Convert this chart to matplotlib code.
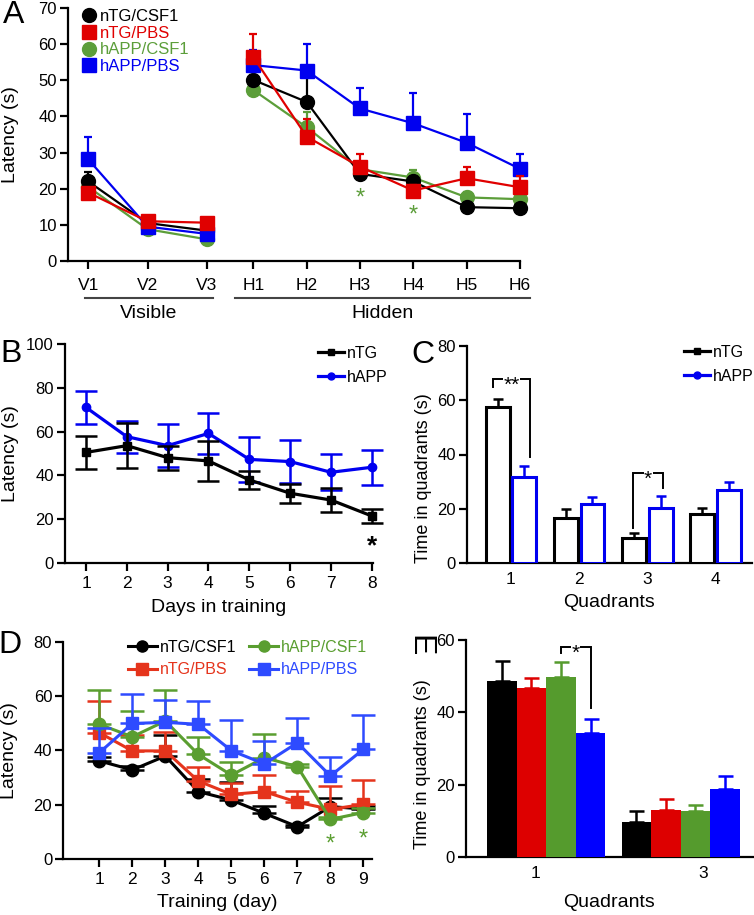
import matplotlib
matplotlib.use('Agg')
import matplotlib.pyplot as plt
import matplotlib.transforms as mtransforms
from matplotlib.lines import Line2D
import numpy as np

plt.rcParams['font.family'] = ['Liberation Sans', 'DejaVu Sans']

# ---------------- data ----------------
# Panel A
A_labels = ['V1', 'V2', 'V3', 'H1', 'H2', 'H3', 'H4', 'H5', 'H6']
A_ntg_csf1 = [22.0, 10.5, 8.4, 50.1, 44.0, 24.1, 22.0, 14.9, 14.6]
A_ntg_csf1_err = [2.7, 0.5, 0.8, 1.5, 8.5, 1.2, 1.0, 0.8, 0.8]
A_ntg_pbs = [18.9, 11.0, 10.6, 56.4, 34.4, 26.1, 19.5, 22.9, 20.4]
A_ntg_pbs_err = [1.0, 0.8, 1.2, 6.4, 4.9, 3.5, 1.5, 3.0, 3.0]
A_happ_csf1 = [20.5, 8.8, 6.0, 47.3, 37.0, 25.4, 23.1, 17.6, 17.1]
A_happ_csf1_err = [1.0, 0.5, 0.5, 1.0, 4.1, 1.0, 2.1, 1.5, 1.0]
A_happ_pbs = [28.1, 9.5, 7.5, 54.2, 52.7, 42.2, 38.1, 32.7, 25.5]
A_happ_pbs_err = [6.3, 0.5, 0.5, 4.2, 7.3, 5.8, 8.3, 7.9, 4.1]
A_sig = ['H3', 'H4']
A_sig_y = [19.5, 14.7]

# Panel B
B_days = [1, 2, 3, 4, 5, 6, 7, 8]
B_ntg = [50.5, 53.6, 48.1, 46.6, 37.9, 31.8, 28.7, 21.4]
B_ntg_err = [7.5, 10.2, 5.5, 9.0, 4.0, 4.3, 5.5, 3.2]
B_happ = [71.1, 57.7, 53.6, 59.2, 47.3, 46.3, 41.4, 43.7]
B_happ_err = [7.7, 7.4, 10.0, 9.5, 10.2, 10.0, 8.3, 8.1]

# Panel C
C_quadrants = ['1', '2', '3', '4']
C_ntg = [57.6, 16.5, 9.2, 18.0]
C_ntg_err = [2.9, 3.4, 1.8, 2.2]
C_happ = [31.9, 21.8, 20.5, 27.0]
C_happ_err = [3.9, 2.5, 4.3, 3.0]

# Panel D
D_days = [1, 2, 3, 4, 5, 6, 7, 8, 9]
D_ntg_csf1 = [36.1, 32.8, 37.9, 24.8, 21.7, 16.8, 11.9, 19.3, 18.4]
D_ntg_csf1_err = [1.5, 1.5, 7.7, 4.5, 6.8, 2.8, 0.8, 3.0, 1.0]
D_ntg_pbs = [46.5, 39.8, 39.8, 28.7, 23.8, 24.8, 20.9, 18.3, 20.1]
D_ntg_pbs_err = [11.7, 6.0, 7.0, 5.0, 4.0, 6.1, 4.1, 8.7, 9.0]
D_happ_csf1 = [49.6, 45.0, 50.8, 38.5, 30.9, 37.3, 34.0, 14.6, 17.1]
D_happ_csf1_err = [12.6, 9.6, 11.4, 6.5, 4.9, 8.6, 1.0, 1.0, 1.5]
D_happ_pbs = [39.1, 49.9, 50.3, 49.6, 39.9, 35.0, 42.8, 30.6, 40.4]
D_happ_pbs_err = [9.0, 10.8, 8.2, 8.6, 11.3, 8.6, 9.2, 7.1, 12.6]
D_sig = [8, 9]
D_sig_y = [8.1, 9.9]

# Panel E
E_quadrants = ['1', '3']
E_ntg_csf1 = [48.7, 9.7]
E_ntg_csf1_err = [5.5, 3.1]
E_ntg_pbs = [46.8, 13.1]
E_ntg_pbs_err = [2.6, 3.0]
E_happ_csf1 = [49.7, 12.9]
E_happ_csf1_err = [4.1, 1.5]
E_happ_pbs = [34.4, 18.9]
E_happ_pbs_err = [3.8, 3.6]

# ---------------- style ----------------
RED_A, GREEN_A, BLUE_A = '#e00000', '#5c9e3a', '#0000f0'
RED_D, GREEN_D, BLUE_D = '#e5341c', '#5a9e30', '#2e4bff'
RED_E, GREEN_E, BLUE_E = '#dd0000', '#559b2d', '#0000ff'

W, H = 754, 915
fig = plt.figure(figsize=(W / 100, H / 100), dpi=100)


def px_axes(l, t, r, b):
    return fig.add_axes([l / W, 1 - b / H, (r - l) / W, (b - t) / H])


def style(ax, xticks=True, xpad=4):
    for s in ['top', 'right']:
        ax.spines[s].set_visible(False)
    for s in ['left', 'bottom']:
        ax.spines[s].set_linewidth(1.6)
    ax.tick_params(axis='y', direction='out', length=6, width=1.6, labelsize=12, pad=2)
    ax.tick_params(axis='x', direction='out', length=5.5 if xticks else 0, width=1.6,
                   labelsize=12.5, pad=xpad if xticks else 6)


def noclip(eb):
    line, caps, bars = eb.lines
    if line is not None:
        line.set_clip_on(False)
    for c in caps:
        c.set_clip_on(False)
    for b in bars:
        b.set_clip_on(False)


def up(err):
    return [np.zeros(len(err)), err]


def star(ax, x, y, s='*', color='black', fs=17, weight='normal'):
    # place the asterisk glyph centred on (x, y)
    ax.annotate(s, xy=(x, y), xytext=(0, -0.575 * fs), textcoords='offset points',
                ha='center', va='baseline', fontsize=fs, color=color, fontweight=weight,
                zorder=7, annotation_clip=False)


def set_labels(ax, xlabel, xy_x, ylabel, xy_y, size=14, ysize=None):
    if xlabel:
        ax.set_xlabel(xlabel, fontsize=size)
        ax.xaxis.set_label_coords(*xy_x)
        ax.xaxis.label.set_va('center')
    ax.set_ylabel(ylabel, fontsize=ysize or size)
    ax.yaxis.set_label_coords(*xy_y)
    ax.yaxis.label.set_va('center')


def bracket(ax, x0, x1, ytop, yb0, yb1, label, fs=15):
    ax.plot([x0, x0, x1, x1], [yb0, ytop, ytop, yb1], color='black', lw=1.4,
            clip_on=False, zorder=6, solid_joinstyle='miter')
    t = ax.annotate(label, xy=((x0 + x1) / 2, ytop), xytext=(0, -0.575 * fs),
                    textcoords='offset points', ha='center', va='baseline', fontsize=fs,
                    zorder=7, annotation_clip=False)
    t.set_bbox(dict(facecolor='white', edgecolor='none', pad=0.3))


# ---------------- Panel A ----------------
axA = px_axes(68, 8, 520, 261)
xA = np.array([0, 1, 2, 2.787, 3.688, 4.586, 5.487, 6.39, 7.29])
seriesA = [
    (A_happ_csf1, A_happ_csf1_err, GREEN_A, 'o', 2),
    (A_ntg_csf1, A_ntg_csf1_err, 'black', 'o', 3),
    (A_happ_pbs, A_happ_pbs_err, BLUE_A, 's', 4),
    (A_ntg_pbs, A_ntg_pbs_err, RED_A, 's', 5),
]
groupsA = [[i for i, l in enumerate(A_labels) if l.startswith(g)] for g in ('V', 'H')]
for vals, err, col, mk, z in seriesA:
    vals = np.asarray(vals)
    err = np.asarray(err)
    for idx in groupsA:
        eb = axA.errorbar(xA[idx], vals[idx], yerr=up(err[idx]), color=col, marker=mk,
                          ms=10 if mk == 'o' else 9.5, lw=1.6, elinewidth=1.6, capsize=3,
                          capthick=1.6, zorder=z)
        noclip(eb)
for lab, yv in zip(A_sig, A_sig_y):
    star(axA, xA[A_labels.index(lab)], yv, color=GREEN_A, fs=17)
axA.set_xlim(-0.343, 7.29)
axA.set_ylim(0, 70)
axA.set_yticks(range(0, 71, 10))
axA.set_xticks(xA)
axA.set_xticklabels(A_labels)
style(axA, xpad=7)
set_labels(axA, None, None, 'Latency (s)', (-0.128, 0.5))
hA = [Line2D([], [], color='black', marker='o', ls='none', ms=10),
      Line2D([], [], color=RED_A, marker='s', ls='none', ms=9.5),
      Line2D([], [], color=GREEN_A, marker='o', ls='none', ms=10),
      Line2D([], [], color=BLUE_A, marker='s', ls='none', ms=9.5)]
legA = axA.legend(hA, ['nTG/CSF1', 'nTG/PBS', 'hAPP/CSF1', 'hAPP/PBS'], loc='upper left',
                  bbox_to_anchor=(81 / W, 1 - 9 / H), bbox_transform=fig.transFigure,
                  frameon=False, fontsize=12, handlelength=0.9, handletextpad=0.25,
                  labelspacing=0.1, borderpad=0, borderaxespad=0)
for t, c in zip(legA.get_texts(), ['black', RED_A, GREEN_A, BLUE_A]):
    t.set_color(c)
# group brackets
trA = mtransforms.blended_transform_factory(axA.transData, fig.transFigure)
for (x0, x1, name) in [(-0.06, 2.11, 'Visible'), (2.478, 7.46, 'Hidden')]:
    fig.add_artist(Line2D([x0, x1], [1 - 298 / H] * 2, transform=trA, color='#444444', lw=1.5))
    fig.text((x0 + x1) / 2, 1 - 314 / H, name, transform=trA, ha='center', va='center', fontsize=14)

# ---------------- Panel B ----------------
axB = px_axes(65, 344.3, 373, 562.7)
eb = axB.errorbar(B_days, B_happ, yerr=B_happ_err, color=BLUE_A, marker='o', ms=6, lw=2.3,
                  elinewidth=1.8, capsize=8, capthick=1.8, zorder=3)
noclip(eb)
eb = axB.errorbar(B_days, B_ntg, yerr=B_ntg_err, color='black', marker='s', ms=6, lw=2.3,
                  elinewidth=1.8, capsize=8, capthick=1.8, zorder=4)
noclip(eb)
star(axB, B_days[-1], 11.3, fs=19, weight='bold')
axB.set_xlim(0.485, 8.03)
axB.set_ylim(0, 100)
axB.set_yticks(range(0, 101, 20))
axB.set_xticks(B_days)
style(axB)
set_labels(axB, 'Days in training', (0.5, -0.205), 'Latency (s)', (-0.178, 0.5))
hB = [Line2D([], [], color='black', marker='s', ms=5, lw=2.3),
      Line2D([], [], color=BLUE_A, marker='o', ms=5, lw=2.3)]
axB.legend(hB, ['nTG', 'hAPP'], loc='upper left', bbox_to_anchor=(318 / W, 1 - 346 / H),
           bbox_transform=fig.transFigure, frameon=False, fontsize=11.5, handlelength=1.6,
           handletextpad=0.2, labelspacing=0.55, borderpad=0, borderaxespad=0)

# ---------------- Panel C ----------------
axC = px_axes(467, 345.7, 752, 563.3)
xC = np.arange(1, len(C_quadrants) + 1)
bw = 0.35
off = 0.195
axC.bar(xC - off, C_ntg, width=bw, facecolor='white', edgecolor='black', lw=2.2, zorder=3)
axC.bar(xC + off, C_happ, width=bw, facecolor='white', edgecolor=BLUE_A, lw=2.2, zorder=3)
axC.errorbar(xC - off, C_ntg, yerr=up(C_ntg_err), fmt='none', ecolor='black', elinewidth=1.8,
             capsize=3.6, capthick=1.8, zorder=4)
axC.errorbar(xC + off, C_happ, yerr=up(C_happ_err), fmt='none', ecolor=BLUE_A, elinewidth=1.8,
             capsize=3.6, capthick=1.8, zorder=4)
bracket(axC, 1 - 0.27, 1 + 0.28, 67.8, 65.0, 39.2, '**')
bracket(axC, 3 - 0.21, 3 + 0.23, 33.1, 12.9, 27.6, '*')
axC.set_xlim(0.355, 4.535)
axC.set_ylim(0, 80)
axC.set_yticks(range(0, 81, 20))
axC.set_xticks(xC)
axC.set_xticklabels(C_quadrants)
style(axC, xticks=False)
set_labels(axC, 'Quadrants', (0.5, -0.18), 'Time in quadrants (s)', (-0.154, 0.392), ysize=13)
hC = [Line2D([], [], color='black', marker='s', ms=5, lw=2.3),
      Line2D([], [], color=BLUE_A, marker='o', ms=5, lw=2.3)]
axC.legend(hC, ['nTG', 'hAPP'], loc='upper left', bbox_to_anchor=(684 / W, 1 - 345 / H),
           bbox_transform=fig.transFigure, frameon=False, fontsize=11.5, handlelength=1.6,
           handletextpad=0.2, labelspacing=0.55, borderpad=0, borderaxespad=0)

# ---------------- Panel D ----------------
axD = px_axes(63.3, 641.7, 371.7, 859)
seriesD = [
    (D_ntg_csf1, D_ntg_csf1_err, 'black', 'o', 2),
    (D_ntg_pbs, D_ntg_pbs_err, RED_D, 's', 3),
    (D_happ_csf1, D_happ_csf1_err, GREEN_D, 'o', 4),
    (D_happ_pbs, D_happ_pbs_err, BLUE_D, 's', 5),
]
for vals, err, col, mk, z in seriesD:
    eb = axD.errorbar(D_days, vals, yerr=up(err), color=col, marker=mk, ms=9 if mk == 'o' else 8.5,
                      lw=2.2, elinewidth=1.8, capsize=8.5, capthick=1.8, zorder=z)
    noclip(eb)
for d, yv in zip(D_sig, D_sig_y):
    star(axD, d, yv, color=GREEN_D, fs=17)
axD.set_xlim(-0.09, 9.25)
axD.set_ylim(0, 80)
axD.set_yticks(range(0, 81, 20))
axD.set_xticks(D_days)
style(axD)
set_labels(axD, 'Training (day)', (0.5, -0.2), 'Latency (s)', (-0.173, 0.5))
hD = [Line2D([], [], color='black', marker='o', ms=8, lw=2.2),
      Line2D([], [], color=RED_D, marker='s', ms=8, lw=2.2),
      Line2D([], [], color=GREEN_D, marker='o', ms=8, lw=2.2),
      Line2D([], [], color=BLUE_D, marker='s', ms=8, lw=2.2)]
legD = axD.legend(hD, ['nTG/CSF1', 'nTG/PBS', 'hAPP/CSF1', 'hAPP/PBS'], ncol=2, loc='upper left',
                  bbox_to_anchor=(128 / W, 1 - 640 / H), bbox_transform=fig.transFigure,
                  frameon=False, fontsize=11.5, handlelength=1.8, handletextpad=0.2,
                  labelspacing=0.45, columnspacing=0.8, borderpad=0, borderaxespad=0)
for t, c in zip(legD.get_texts(), ['black', RED_D, GREEN_D, BLUE_D]):
    t.set_color(c)

# ---------------- Panel E ----------------
axE = px_axes(466, 640, 753, 857.3)
xE = np.arange(len(E_quadrants))
wE = 0.22
seriesE = [
    (E_ntg_csf1, E_ntg_csf1_err, 'black'),
    (E_ntg_pbs, E_ntg_pbs_err, RED_E),
    (E_happ_csf1, E_happ_csf1_err, GREEN_E),
    (E_happ_pbs, E_happ_pbs_err, BLUE_E),
]
for k, (vals, err, col) in enumerate(seriesE):
    xs = xE + (k - 1.5) * wE
    axE.bar(xs, vals, width=wE, color=col, zorder=3)
    axE.errorbar(xs, vals, yerr=up(err), fmt='none', ecolor=col, elinewidth=1.8,
                 capsize=5.4, capthick=1.8, zorder=2)
bracket(axE, 0.5 * wE, 1.5 * wE, 58.1, 56.3, 41.1, '*')
axE.set_xlim(-0.597, 1.538)
axE.set_ylim(0, 60)
axE.set_yticks(range(0, 61, 20))
axE.set_xticks(xE + np.array([-0.08, 0.17]))
axE.set_xticklabels(E_quadrants)
style(axE, xticks=False)
set_labels(axE, 'Quadrants', (0.5, -0.21), 'Time in quadrants (s)', (-0.15, 0.429), ysize=13)

# ---------------- panel letters ----------------
for (x, y, s, rot) in [(14, 15, 'A', 0), (11, 354, 'B', 0), (423, 355, 'C', 0),
                       (10, 645, 'D', 0), (419, 646, 'E', -90)]:
    fig.text(x / W, 1 - y / H, s, fontsize=23, ha='center', va='center', rotation=rot)

fig.savefig('out.png', dpi=100)
